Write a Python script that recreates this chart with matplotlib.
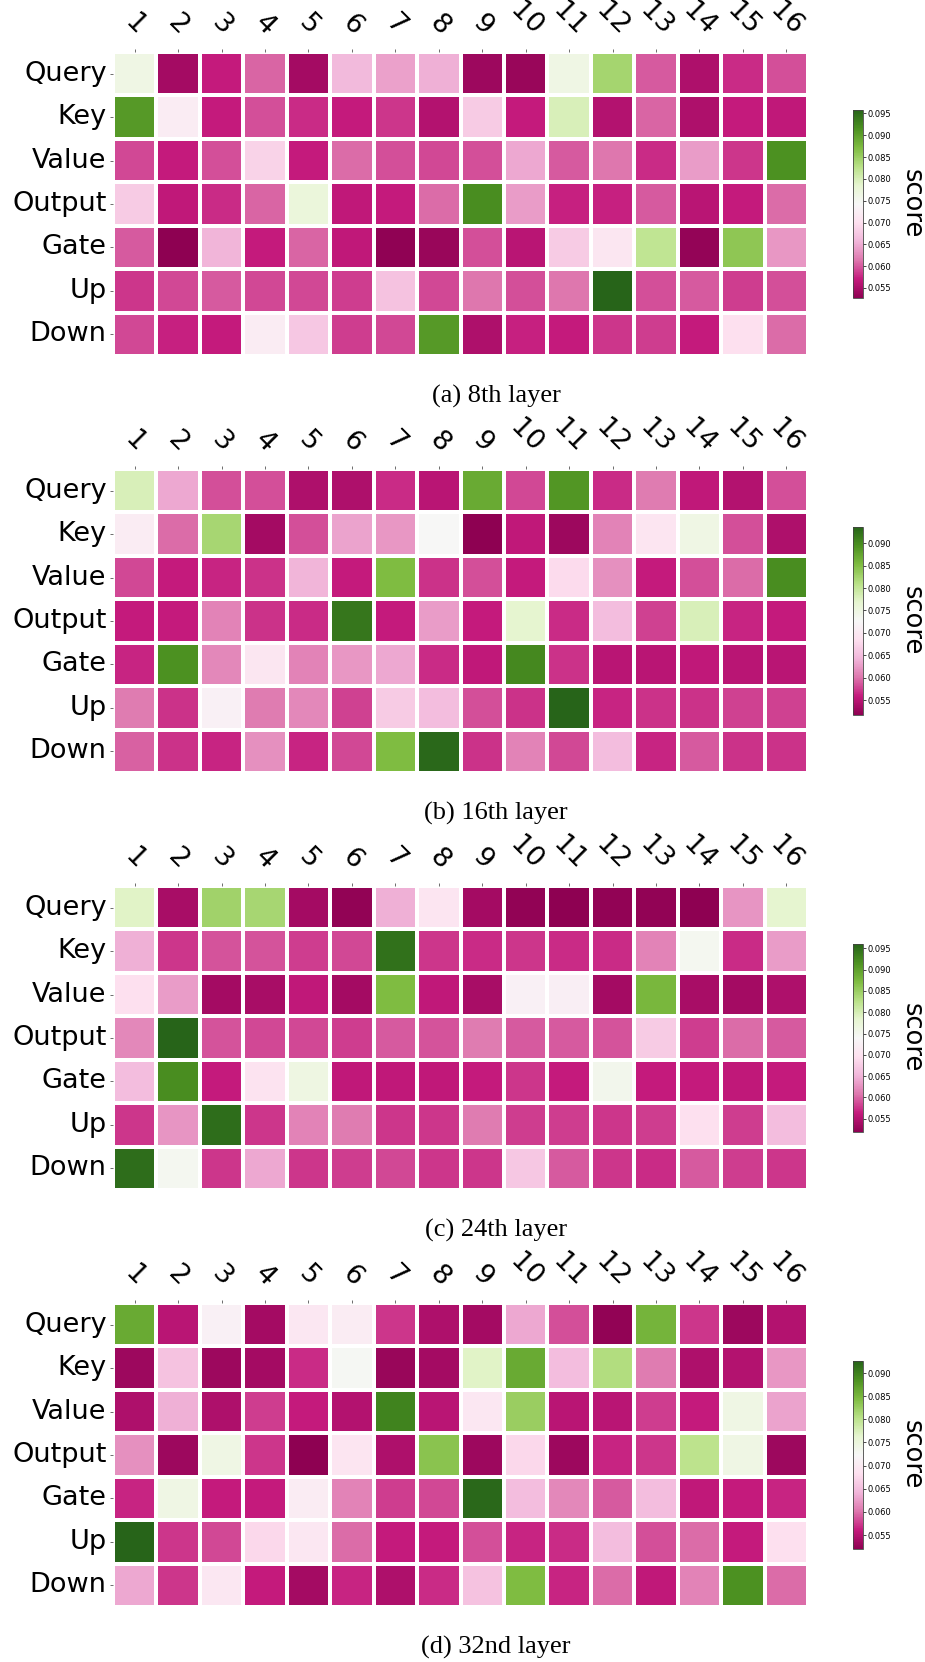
import numpy as np
import matplotlib
matplotlib.use("Agg")
import matplotlib.pyplot as plt
import seaborn as sns

rows = ["Query", "Key", "Value", "Output", "Gate", "Up", "Down"]
cols = [str(i) for i in range(1, 17)]
captions = ["(a) 8th layer", "(b) 16th layer", "(c) 24th layer", "(d) 32nd layer"]

layer8 = [
    [0.0764, 0.0544, 0.0570, 0.0605, 0.0544, 0.0661, 0.0643, 0.0652, 0.0540, 0.0536, 0.0764, 0.0842, 0.0600, 0.0553, 0.0579, 0.0596],
    [0.0906, 0.0721, 0.0570, 0.0596, 0.0579, 0.0570, 0.0583, 0.0557, 0.0678, 0.0570, 0.0799, 0.0557, 0.0605, 0.0553, 0.0570, 0.0566],
    [0.0592, 0.0570, 0.0596, 0.0686, 0.0570, 0.0609, 0.0596, 0.0592, 0.0596, 0.0648, 0.0600, 0.0613, 0.0579, 0.0639, 0.0583, 0.0915],
    [0.0678, 0.0566, 0.0579, 0.0605, 0.0773, 0.0566, 0.0570, 0.0609, 0.0919, 0.0639, 0.0574, 0.0574, 0.0600, 0.0561, 0.0570, 0.0609],
    [0.0600, 0.0527, 0.0656, 0.0570, 0.0605, 0.0566, 0.0529, 0.0536, 0.0596, 0.0561, 0.0678, 0.0712, 0.0820, 0.0533, 0.0859, 0.0635],
    [0.0583, 0.0592, 0.0600, 0.0592, 0.0592, 0.0587, 0.0669, 0.0592, 0.0613, 0.0596, 0.0613, 0.0958, 0.0596, 0.0600, 0.0587, 0.0596],
    [0.0592, 0.0574, 0.0570, 0.0721, 0.0674, 0.0587, 0.0592, 0.0906, 0.0553, 0.0574, 0.0570, 0.0583, 0.0587, 0.0570, 0.0699, 0.0609],
]

layer16 = [
    [0.0781, 0.0634, 0.0584, 0.0584, 0.0542, 0.0542, 0.0567, 0.0551, 0.0869, 0.0580, 0.0890, 0.0567, 0.0605, 0.0555, 0.0546, 0.0584],
    [0.0706, 0.0597, 0.0823, 0.0534, 0.0584, 0.0630, 0.0622, 0.0727, 0.0517, 0.0555, 0.0530, 0.0609, 0.0693, 0.0747, 0.0584, 0.0542],
    [0.0580, 0.0559, 0.0563, 0.0571, 0.0643, 0.0559, 0.0852, 0.0571, 0.0584, 0.0559, 0.0680, 0.0618, 0.0559, 0.0584, 0.0597, 0.0898],
    [0.0559, 0.0559, 0.0609, 0.0571, 0.0567, 0.0919, 0.0559, 0.0626, 0.0559, 0.0768, 0.0567, 0.0651, 0.0576, 0.0781, 0.0563, 0.0559],
    [0.0563, 0.0894, 0.0613, 0.0697, 0.0609, 0.0622, 0.0634, 0.0567, 0.0555, 0.0902, 0.0571, 0.0551, 0.0551, 0.0555, 0.0551, 0.0551],
    [0.0605, 0.0571, 0.0714, 0.0605, 0.0613, 0.0576, 0.0664, 0.0651, 0.0584, 0.0571, 0.0936, 0.0563, 0.0571, 0.0571, 0.0576, 0.0576],
    [0.0592, 0.0571, 0.0563, 0.0618, 0.0563, 0.0580, 0.0852, 0.0932, 0.0571, 0.0609, 0.0580, 0.0651, 0.0563, 0.0588, 0.0571, 0.0571],
]

layer24 = [
    [0.0788, 0.0541, 0.0845, 0.0841, 0.0537, 0.0523, 0.0647, 0.0704, 0.0537, 0.0523, 0.0519, 0.0523, 0.0523, 0.0520, 0.0629, 0.0784],
    [0.0647, 0.0576, 0.0590, 0.0590, 0.0581, 0.0585, 0.0947, 0.0576, 0.0572, 0.0576, 0.0572, 0.0572, 0.0616, 0.0748, 0.0572, 0.0634],
    [0.0695, 0.0634, 0.0537, 0.0541, 0.0559, 0.0537, 0.0872, 0.0559, 0.0541, 0.0726, 0.0722, 0.0537, 0.0876, 0.0541, 0.0537, 0.0545],
    [0.0620, 0.0960, 0.0590, 0.0585, 0.0585, 0.0581, 0.0594, 0.0590, 0.0612, 0.0594, 0.0594, 0.0590, 0.0673, 0.0581, 0.0603, 0.0594],
    [0.0660, 0.0920, 0.0563, 0.0700, 0.0762, 0.0559, 0.0559, 0.0559, 0.0563, 0.0576, 0.0563, 0.0753, 0.0563, 0.0563, 0.0559, 0.0563],
    [0.0576, 0.0629, 0.0951, 0.0576, 0.0616, 0.0612, 0.0576, 0.0576, 0.0612, 0.0581, 0.0581, 0.0576, 0.0581, 0.0695, 0.0581, 0.0660],
    [0.0951, 0.0748, 0.0576, 0.0642, 0.0576, 0.0581, 0.0585, 0.0576, 0.0576, 0.0669, 0.0594, 0.0576, 0.0572, 0.0594, 0.0581, 0.0576],
]

layer32 = [
    [0.0861, 0.0552, 0.0711, 0.0536, 0.0695, 0.0703, 0.0573, 0.0544, 0.0536, 0.0634, 0.0585, 0.0524, 0.0853, 0.0573, 0.0532, 0.0548],
    [0.0532, 0.0654, 0.0532, 0.0536, 0.0569, 0.0727, 0.0528, 0.0536, 0.0768, 0.0861, 0.0650, 0.0808, 0.0605, 0.0544, 0.0548, 0.0622],
    [0.0544, 0.0638, 0.0544, 0.0577, 0.0561, 0.0548, 0.0898, 0.0552, 0.0695, 0.0825, 0.0552, 0.0552, 0.0577, 0.0561, 0.0743, 0.0630],
    [0.0617, 0.0532, 0.0743, 0.0573, 0.0520, 0.0691, 0.0544, 0.0837, 0.0532, 0.0674, 0.0532, 0.0565, 0.0573, 0.0800, 0.0743, 0.0532],
    [0.0565, 0.0743, 0.0561, 0.0561, 0.0703, 0.0609, 0.0577, 0.0581, 0.0922, 0.0650, 0.0613, 0.0589, 0.0650, 0.0557, 0.0561, 0.0565],
    [0.0926, 0.0573, 0.0581, 0.0674, 0.0695, 0.0597, 0.0561, 0.0561, 0.0585, 0.0565, 0.0569, 0.0650, 0.0585, 0.0597, 0.0561, 0.0682],
    [0.0634, 0.0573, 0.0695, 0.0561, 0.0536, 0.0565, 0.0544, 0.0569, 0.0654, 0.0845, 0.0565, 0.0597, 0.0557, 0.0609, 0.0885, 0.0597],
]

cbar_ticks = [0.055, 0.060, 0.065, 0.070, 0.075, 0.080, 0.085, 0.090, 0.095]

panels = [layer8, layer16, layer24, layer32]

W, H = 925, 1662
fig = plt.figure(figsize=(W / 100, H / 100), dpi=100)

hm_left, hm_w, hm_h = 113, 695, 304
cb_left, cb_w, cb_h = 853, 10, 188
panel_step = 417
first_top = 52

for i, (data, cap) in enumerate(zip(panels, captions)):
    arr = np.array(data)
    top = first_top + panel_step * i
    ax = fig.add_axes([hm_left / W, 1 - (top + hm_h) / H, hm_w / W, hm_h / H])
    cb_top = top + 58
    cax = fig.add_axes([cb_left / W, 1 - (cb_top + cb_h) / H, cb_w / W, cb_h / H])
    sns.heatmap(arr, ax=ax, cbar_ax=cax, cmap="PiYG",
                linewidths=1.5, linecolor="white",
                xticklabels=cols, yticklabels=rows)
    ax.xaxis.tick_top()
    ax.tick_params(axis="x", labelsize=19.5, rotation=-45, length=2.5, pad=6,
                   width=0.6, color="#555555")
    ax.tick_params(axis="y", labelsize=19.5, rotation=0, length=2.5, pad=2,
                   width=0.6, color="#555555")
    cbar = ax.collections[0].colorbar
    lo, hi = arr.min(), arr.max()
    cbar.set_ticks([t for t in cbar_ticks if lo <= t <= hi])
    cbar.ax.yaxis.set_major_formatter(matplotlib.ticker.FormatStrFormatter("%.3f"))
    cbar.outline.set_linewidth(0.6)
    cbar.outline.set_edgecolor("#444444")
    cax.tick_params(labelsize=6, length=2, width=0.5, pad=1.5)
    cax.set_ylabel("score", fontsize=18.5, rotation=270, labelpad=24)
    cap_y = 396 + panel_step * i
    fig.text(496 / W, 1 - cap_y / H, cap, ha="center", va="center",
             fontsize=19, family="Liberation Serif")

fig.savefig("out.png", dpi=100)
